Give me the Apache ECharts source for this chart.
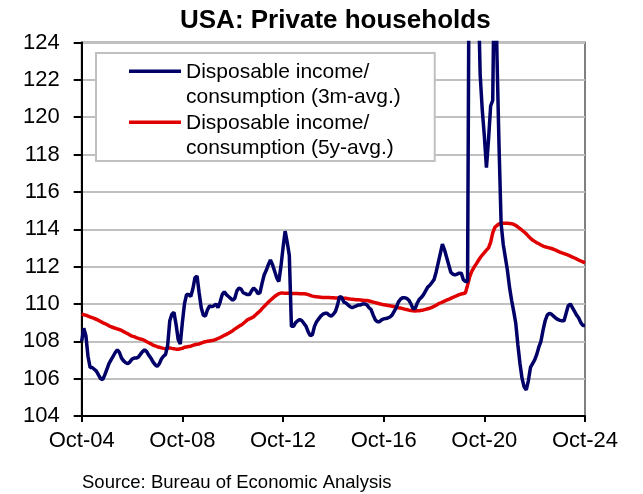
<!DOCTYPE html>
<html><head><meta charset="utf-8">
<script src="https://cdn.jsdelivr.net/npm/echarts@6/dist/echarts.min.js"></script>
<style>html,body{margin:0;padding:0;background:#fff}#c{width:643px;height:494px}</style>
</head><body><div id="c"></div>
<script>
const monthNames = ['Jan','Feb','Mar','Apr','May','Jun','Jul','Aug','Sep','Oct','Nov','Dec'];
const categories = [];
for (let i = 0; i < 241; i++) {
  const k = 9 + i;
  categories.push(monthNames[k % 12] + '-' + String((2004 + Math.floor(k / 12)) % 100).padStart(2, '0'));
}
const xTickLabels = ['Oct-04','Oct-08','Oct-12','Oct-16','Oct-20','Oct-24'];
const yMin = 104, yMax = 124, yStep = 2;

const seriesNames = ['Disposable income/\nconsumption (3m-avg.)', 'Disposable income/\nconsumption (5y-avg.)'];

const income3m = [
108.0,108.7,108.3,107.2,106.6,106.6,106.5,106.4,106.2,106.0,
105.95,106.2,106.5,106.8,107.0,107.2,107.4,107.55,107.4,107.1,
106.95,106.85,106.8,106.9,107.05,107.1,107.1,107.15,107.3,107.45,
107.55,107.45,107.25,107.1,106.9,106.75,106.65,106.8,107.05,107.2,
107.3,107.8,109.1,109.45,109.55,108.9,108.1,107.85,109.0,110.0,
110.5,110.5,110.4,110.8,111.4,111.5,110.6,109.8,109.4,109.35,
109.7,109.9,109.85,109.9,110.0,109.8,110.1,110.5,110.65,110.5,
110.4,110.3,110.2,110.3,110.7,110.85,110.8,110.6,110.55,110.5,
110.5,110.7,110.85,110.75,110.55,110.6,111.1,111.55,111.8,112.1,
112.35,112.1,111.75,111.4,111.2,112.0,113.0,113.9,113.3,112.6,
108.8,108.8,109.0,109.1,109.17,109.1,108.95,108.8,108.5,108.3,
108.35,108.8,109.05,109.2,109.35,109.45,109.5,109.5,109.4,109.35,
109.45,109.6,109.95,110.4,110.35,110.1,110.05,109.95,109.85,109.8,
109.85,109.9,109.95,109.95,110.0,110.0,109.95,109.8,109.7,109.4,
109.15,109.05,109.05,109.15,109.2,109.22,109.25,109.3,109.4,109.6,
109.8,110.1,110.25,110.33,110.33,110.3,110.2,110.0,109.75,109.75,
110.05,110.25,110.35,110.5,110.7,110.9,111.0,111.15,111.3,111.7,
112.2,112.7,113.2,112.9,112.5,112.1,111.7,111.6,111.55,111.6,
111.65,111.65,111.3,111.2,111.2,135,148,150,140,127.4,
122.3,120.4,119.0,117.3,118.8,120.6,120.9,130,123.4,118.5,
114.3,113.2,112.5,111.8,110.9,110.2,109.6,108.95,107.8,106.8,
106.0,105.55,105.4,105.9,106.6,106.8,107.0,107.3,107.7,108.0,
108.6,109.1,109.4,109.5,109.45,109.35,109.25,109.17,109.12,109.1,
109.1,109.5,109.9,110.0,109.8,109.6,109.4,109.25,109.0,108.85,
108.85
];

const income5y = [
109.45,109.42,109.4,109.35,109.3,109.27,109.22,109.18,109.12,109.06,
109.0,108.95,108.9,108.83,108.78,108.74,108.7,108.66,108.63,108.58,
108.52,108.46,108.4,108.33,108.28,108.25,108.2,108.16,108.12,108.1,
108.04,107.98,107.92,107.86,107.8,107.75,107.71,107.68,107.65,107.62,
107.6,107.62,107.65,107.62,107.6,107.58,107.57,107.6,107.62,107.68,
107.7,107.72,107.74,107.78,107.82,107.84,107.86,107.9,107.95,107.98,
108.0,108.02,108.04,108.06,108.1,108.15,108.2,108.26,108.32,108.37,
108.43,108.5,108.57,108.65,108.73,108.8,108.87,108.95,109.05,109.15,
109.2,109.25,109.32,109.42,109.52,109.62,109.75,109.87,109.98,110.1,
110.2,110.3,110.4,110.48,110.55,110.58,110.58,110.57,110.57,110.57,
110.56,110.56,110.56,110.56,110.55,110.55,110.54,110.53,110.5,110.46,
110.42,110.4,110.38,110.37,110.36,110.35,110.35,110.34,110.34,110.33,
110.33,110.32,110.32,110.31,110.31,110.3,110.3,110.28,110.26,110.25,
110.24,110.23,110.22,110.21,110.2,110.19,110.18,110.16,110.13,110.1,
110.07,110.04,110.01,109.98,109.96,109.94,109.92,109.9,109.88,109.86,
109.83,109.8,109.78,109.75,109.72,109.7,109.67,109.65,109.63,109.62,
109.63,109.64,109.66,109.68,109.71,109.74,109.77,109.82,109.87,109.93,
110.0,110.05,110.1,110.15,110.2,110.25,110.3,110.35,110.4,110.45,
110.5,110.53,110.56,110.6,111.0,111.45,111.75,111.95,112.12,112.3,
112.47,112.62,112.75,112.88,113.0,113.3,113.8,114.1,114.2,114.28,
114.31,114.32,114.32,114.32,114.31,114.3,114.26,114.2,114.12,114.03,
113.95,113.85,113.75,113.63,113.52,113.42,113.35,113.28,113.22,113.16,
113.1,113.06,113.03,113.0,112.97,112.93,112.88,112.83,112.78,112.74,
112.7,112.66,112.61,112.56,112.51,112.46,112.41,112.35,112.3,112.25,
112.2
];

const FONT = 'Liberation Sans';
const chart = echarts.init(document.getElementById('c'), null, {renderer: 'canvas'});
const showTick = (idx, val) => xTickLabels.indexOf(val) >= 0;
const legendIcon = 'path://M0,0M0,10.5L52,10.5L52,14L0,14ZM52,51';

chart.setOption({
  animation: false,
  backgroundColor: '#fff',
  title: [
    {text: 'USA: Private households', left: 175, top: 3,
     textStyle: {fontFamily: FONT, fontSize: 26, fontWeight: 'bold', color: '#000'}},
    {text: 'Source: Bureau of Economic Analysis', left: 77, top: 468,
     textStyle: {fontFamily: FONT, fontSize: 18.5, fontWeight: 'normal', color: '#000'}}
  ],
  grid: {left: 81.7, right: 58, top: 42.5, bottom: 78, show: true,
         borderColor: '#808080', borderWidth: 2, backgroundColor: 'transparent'},
  legend: {
    orient: 'vertical', left: 96, top: 53,
    padding: [6, 34, 0, 33], itemGap: 0,
    itemWidth: 52, itemHeight: 51,
    backgroundColor: '#fff', borderColor: '#c0c0c0', borderWidth: 2,
    icon: legendIcon,
    itemStyle: {borderWidth: 0},
    textStyle: {fontFamily: FONT, fontSize: 21, lineHeight: 25.5, color: '#000'},
    data: seriesNames
  },
  xAxis: {
    type: 'category', data: categories, boundaryGap: false,
    axisLine: {lineStyle: {color: '#000', width: 2}},
    axisTick: {interval: showTick, length: 6, lineStyle: {color: '#000', width: 2}},
    axisLabel: {interval: showTick, margin: 14, fontFamily: FONT, fontSize: 22, color: '#000'},
    splitLine: {show: false}
  },
  yAxis: {
    type: 'value', min: yMin, max: yMax, interval: yStep,
    axisLine: {show: true, lineStyle: {color: '#000', width: 2}},
    axisTick: {show: true, length: 8, lineStyle: {color: '#000', width: 2}},
    axisLabel: {margin: 22, fontFamily: FONT, fontSize: 22, color: '#000'},
    splitLine: {lineStyle: {color: '#c0c0c0', width: 2}}
  },
  series: [
    {name: seriesNames[0], type: 'line', data: income3m, showSymbol: false, symbol: 'none',
     z: 3, lineStyle: {color: '#000068', width: 3.5}, itemStyle: {color: '#000068'}},
    {name: seriesNames[1], type: 'line', data: income5y, showSymbol: false, symbol: 'none',
     z: 2, lineStyle: {color: '#e00000', width: 3.5}, itemStyle: {color: '#e00000'}}
  ]
});
</script></body></html>
